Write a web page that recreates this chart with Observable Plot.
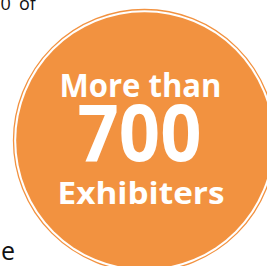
<!DOCTYPE html>
<html><head><meta charset="utf-8">
<script src="https://cdn.jsdelivr.net/npm/d3@7"></script>
<script src="https://cdn.jsdelivr.net/npm/@observablehq/plot@0.6"></script>
<style>html,body{margin:0;padding:0;background:#fff;overflow:hidden}</style>
</head><body><div id="chart"></div>
<script>
// Content of the badge
const badge = ["badge"];
const headline = ["More than"];
const figure = ["700"];
const unit = ["Exhibiters"];
// Partially visible surrounding text fragments
const fragmentTop = ["0 of"];
const fragmentBottom = ["e"];

const ORANGE = "#F29240";
const W = 267, H = 266;
const CX = W / 2, CY = H / 2;

const svg = Plot.plot({
  width: W, height: H, margin: 0,
  style: {background: "white", overflow: "hidden"},
  marks: [
    Plot.dot(badge, {frameAnchor: "middle", dx: 144 - CX, dy: 140 - CY, r: 131,
      fill: "none", stroke: ORANGE, strokeWidth: 1.3}),
    Plot.dot(badge, {frameAnchor: "middle", dx: 144 - CX, dy: 140 - CY, r: 128.3,
      fill: ORANGE, stroke: "none"}),
    Plot.text(headline, {text: d => d, frameAnchor: "middle", dx: 140 - CX, dy: 96.7 - CY,
      lineAnchor: "bottom", fill: "white", fontWeight: "bold", fontSize: 33,
      fontFamily: "Open Sans"}),
    Plot.text(figure, {text: d => d, frameAnchor: "middle", dx: 139 - CX, dy: 160 - CY,
      lineAnchor: "bottom", fill: "white", fontWeight: "bold", fontSize: 79,
      fontFamily: "Open Sans"}),
    Plot.text(unit, {text: d => d, frameAnchor: "middle", dx: 140.5 - CX, dy: 203.3 - CY,
      lineAnchor: "bottom", fill: "white", fontWeight: "bold", fontSize: 30.5,
      fontFamily: "Open Sans"}),
    Plot.text(fragmentTop, {text: d => d, frameAnchor: "top-left", dx: 0, dy: 9.5,
      lineAnchor: "bottom", textAnchor: "start", fill: "#111", fontSize: 18,
      fontFamily: "Open Sans"}),
    Plot.text(fragmentBottom, {text: d => d, frameAnchor: "top-left", dx: 0.5, dy: 259.3,
      lineAnchor: "bottom", textAnchor: "start", fill: "#111", fontSize: 25,
      fontFamily: "Open Sans"})
  ]
});

// Fit widths of the badge texts (in mark order) to the reference lettering
const lengths = [162, 124, 167];
const texts = svg.querySelectorAll("text");
texts.forEach((t, i) => {
  if (lengths[i]) { t.setAttribute("textLength", lengths[i]); t.setAttribute("lengthAdjust", "spacingAndGlyphs"); }
});
texts[3].style.wordSpacing = "3.5px";

document.getElementById("chart").appendChild(svg);
</script>
</body></html>
